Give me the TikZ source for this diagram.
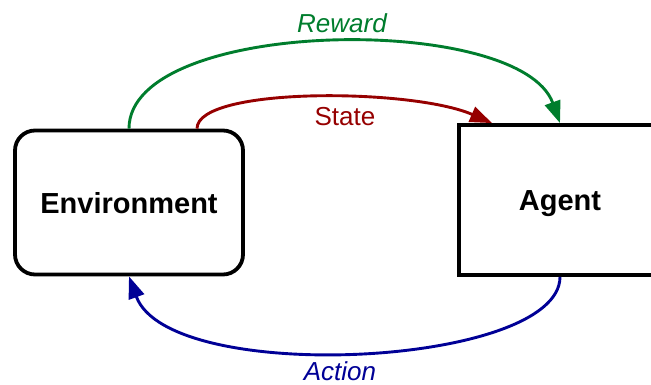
\documentclass[tikz,border=0pt]{standalone}
\usepackage{fontspec}
\setmainfont{Liberation Sans}
\usetikzlibrary{arrows.meta}

\definecolor{rewardGreen}{RGB}{0,125,45}
\definecolor{stateRed}{RGB}{150,0,0}
\definecolor{actionBlue}{RGB}{0,0,150}

\def\boxLine{3.8pt}
\def\flowLine{2.9pt}

\tikzset{
  block/.style = {draw, line width=\boxLine, inner sep=0pt, text depth=0pt,
    font=\fontsize{29}{34}\selectfont\bfseries},
  flow/.style = {line width=\flowLine, -{Triangle[length=22pt,width=16pt]}},
  flowlabel/.style = {inner sep=0pt, font=\fontsize{26}{31}\selectfont},
}

\begin{document}
\begin{tikzpicture}[x=1pt,y=1pt]
    \useasboundingbox (0,0) rectangle (651,385);
    %% boxes
    \node [block, rounded corners=20pt, minimum width=228pt, minimum height=144pt]
        (env) at (129,182.5) {Environment};
    \node [block, minimum width=202pt, minimum height=150pt]
        (agent) at (560,185) {\raisebox{-2pt}{Agent}};
    %% connectors
    \draw [flow, rewardGreen]
        (env.north) .. controls +(0,111) and +(-40,111) .. (agent.north)
        ;
    \draw [flow, stateRed]
        ([xshift=68pt]env.north) .. controls +(0,42) and +(-80,35) .. ([xshift=-68pt]agent.north)
        ;
    \draw [flow, actionBlue]
        (agent.south) .. controls +(0,-90) and +(40,-110) .. (env.south)
        ;
    %% labels
    \node [flowlabel, text=rewardGreen] (reward) at (342,362) {\itshape Reward};
    \node [flowlabel, text=stateRed] (state) at (345,268) {State};
    \node [flowlabel, text=actionBlue] (action) at (340,14) {\itshape Action};
\end{tikzpicture}
\end{document}
